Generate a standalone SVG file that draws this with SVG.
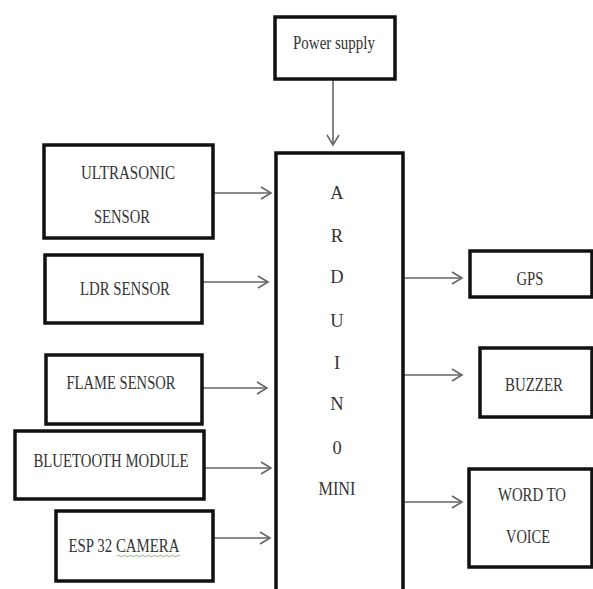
<svg xmlns="http://www.w3.org/2000/svg" width="593" height="589" viewBox="0 0 593 589">
<style>
.box{fill:#fff;stroke:#111;stroke-width:3.5}
.t{font-family:"Liberation Serif","DejaVu Serif",serif;font-size:18.5px;fill:#333;text-anchor:middle}
.c{stroke:#666;stroke-width:1.6;fill:none;marker-end:url(#ah)}
</style>
<defs>
<marker id="ah" markerUnits="userSpaceOnUse" markerWidth="14" markerHeight="14" refX="11" refY="7" orient="auto">
<path d="M1,1 L11,7 L1,13" fill="none" stroke="#666" stroke-width="1.6"/>
</marker>
</defs>
<rect width="593" height="589" fill="#fff"/>
<g id="connectors">
<line class="c" x1="333" y1="80" x2="333" y2="145"/>
<line class="c" x1="214" y1="193" x2="271" y2="193"/>
<line class="c" x1="203" y1="282" x2="268" y2="282"/>
<line class="c" x1="203" y1="388" x2="267" y2="388"/>
<line class="c" x1="205" y1="468" x2="271" y2="468"/>
<line class="c" x1="214" y1="538" x2="270" y2="538"/>
<line class="c" x1="404" y1="278" x2="462" y2="278"/>
<line class="c" x1="404" y1="375" x2="462" y2="375"/>
<line class="c" x1="404" y1="502" x2="462" y2="502"/>
</g>
<g id="power">
<rect class="box" x="275" y="17" width="120" height="62"/>
<text class="t" x="334" y="49" textLength="82" lengthAdjust="spacingAndGlyphs">Power supply</text>
</g>
<g id="arduino">
<path d="M276,595 V153 H403 V595" fill="#fff" stroke="#111" stroke-width="3.5"/>
<text class="t" x="337" y="199">A</text>
<text class="t" x="337" y="242">R</text>
<text class="t" x="337" y="283">D</text>
<text class="t" x="337" y="327">U</text>
<text class="t" x="337" y="369">I</text>
<text class="t" x="337" y="410">N</text>
<text class="t" x="337" y="454">0</text>
<text class="t" x="337" y="495" textLength="37" lengthAdjust="spacingAndGlyphs">MINI</text>
</g>
<g id="ultrasonic">
<rect class="box" x="44" y="145" width="169" height="93"/>
<text class="t" x="128" y="179" textLength="94" lengthAdjust="spacingAndGlyphs">ULTRASONIC</text>
<text class="t" x="122" y="223" textLength="56" lengthAdjust="spacingAndGlyphs">SENSOR</text>
</g>
<g id="ldr">
<rect class="box" x="45" y="255" width="157" height="68"/>
<text class="t" x="125" y="295" textLength="90" lengthAdjust="spacingAndGlyphs">LDR SENSOR</text>
</g>
<g id="flame">
<rect class="box" x="46" y="355" width="156" height="69"/>
<text class="t" x="121" y="389" textLength="109" lengthAdjust="spacingAndGlyphs">FLAME SENSOR</text>
</g>
<g id="bluetooth">
<rect class="box" x="15" y="431" width="189" height="68"/>
<text class="t" x="111" y="467" textLength="155" lengthAdjust="spacingAndGlyphs">BLUETOOTH MODULE</text>
</g>
<g id="esp32">
<rect class="box" x="56" y="511" width="157" height="70"/>
<text class="t" x="124" y="552" textLength="111" lengthAdjust="spacingAndGlyphs">ESP 32 CAMERA</text>
<path d="M117,556 q1.5,-1.5 3,0 t3,0 t3,0 t3,0 t3,0 t3,0 t3,0 t3,0 t3,0 t3,0 t3,0 t3,0 t3,0 t3,0 t3,0 t3,0 t3,0 t3,0 t3,0 t3,0 t3,0" fill="none" stroke="#7a9a5a" stroke-width="0.8"/>
</g>
<g id="gps">
<rect class="box" x="470" y="251" width="122" height="46"/>
<text class="t" x="530" y="285" textLength="27" lengthAdjust="spacingAndGlyphs">GPS</text>
</g>
<g id="buzzer">
<rect class="box" x="480" y="348" width="112" height="69"/>
<text class="t" x="534" y="391" textLength="58" lengthAdjust="spacingAndGlyphs">BUZZER</text>
</g>
<g id="wordtovoice">
<rect class="box" x="469" y="469" width="123" height="98"/>
<text class="t" x="532" y="501" textLength="68" lengthAdjust="spacingAndGlyphs">WORD TO</text>
<text class="t" x="528" y="543" textLength="44" lengthAdjust="spacingAndGlyphs">VOICE</text>
</g>
</svg>
